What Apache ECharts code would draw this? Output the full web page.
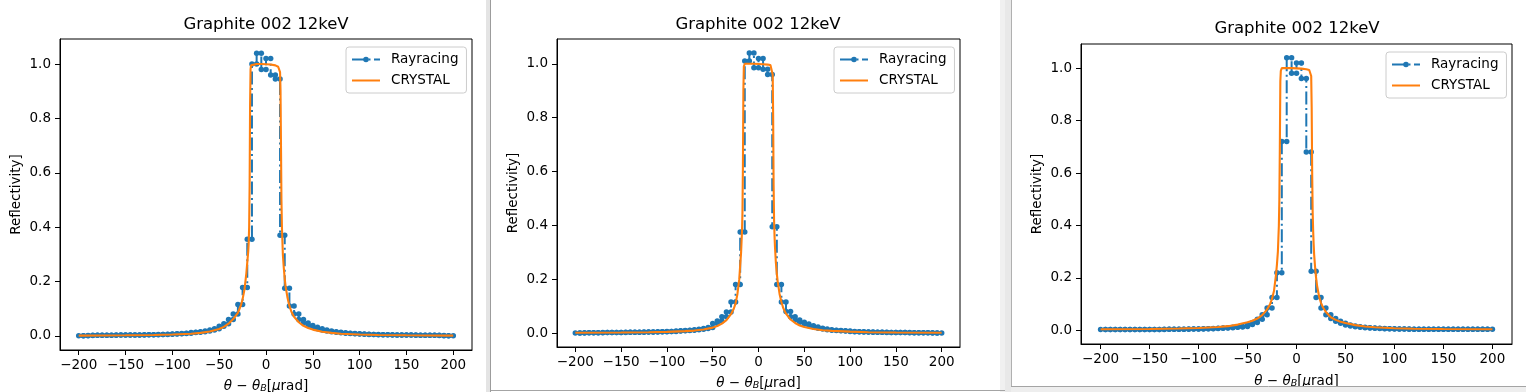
<!DOCTYPE html>
<html>
<head>
<meta charset="utf-8">
<script src="https://cdn.jsdelivr.net/npm/echarts@6/dist/echarts.min.js"></script>
<style>
html,body{margin:0;padding:0;background:#fff;}
#chart{width:1526px;height:392px;}
</style>
</head>
<body>
<div id="chart"></div>
<script>
// ---------------- data ----------------
const titleText = 'Graphite 002 12keV';
const seriesNames = ['Rayracing', 'CRYSTAL'];
const xTicks = [-200, -150, -100, -50, 0, 50, 100, 150, 200];
const yTicks = [0, 0.2, 0.4, 0.6, 0.8, 1.0];

// histogram bin edges of the ray-tracing result (µrad)
const binEdges = [-200,-195,-190,-185,-180,-175,-170,-165,-160,-155,-150,-145,-140,-135,-130,-125,-120,-115,-110,-105,
  -100,-95,-90,-85,-80,-75,-70,-65,-60,-55,-50,-45,-40,-35,-30,-25,-20,-15,-10,-5,
  0,5,10,15,20,25,30,35,40,45,50,55,60,65,70,75,80,85,90,95,
  100,105,110,115,120,125,130,135,140,145,150,155,160,165,170,175,180,185,190,195,200];

// ray-tracing reflectivity per bin, panel 1
const ray1 = [0.000,0.000,0.001,0.002,0.002,0.002,0.002,0.002,0.003,0.003,
  0.003,0.003,0.003,0.003,0.004,0.004,0.004,0.005,0.005,0.006,
  0.007,0.008,0.009,0.010,0.012,0.013,0.015,0.018,0.022,0.026,
  0.035,0.045,0.060,0.080,0.115,0.178,0.355,
  1.000,1.040,0.980,1.020,0.960,0.945,
  0.370,0.175,0.110,0.080,0.060,0.047,0.038,
  0.032,0.026,0.022,0.018,0.015,0.013,0.011,0.010,0.009,0.008,
  0.007,0.006,0.005,0.005,0.004,0.004,0.004,0.003,0.003,0.003,
  0.003,0.003,0.002,0.002,0.002,0.002,0.002,0.001,0.000,0.000];

// panel 2
const ray2 = [0.000,0.000,0.001,0.001,0.001,0.001,0.002,0.002,0.002,0.002,
  0.002,0.003,0.003,0.003,0.003,0.004,0.004,0.004,0.005,0.005,
  0.006,0.006,0.007,0.008,0.009,0.010,0.012,0.014,0.017,0.020,
  0.035,0.045,0.060,0.078,0.115,0.180,0.375,
  1.010,1.040,0.985,1.020,0.980,0.960,
  0.395,0.180,0.115,0.080,0.060,0.048,0.040,
  0.033,0.027,0.022,0.018,0.015,0.012,0.010,0.009,0.008,0.007,
  0.006,0.005,0.005,0.004,0.004,0.003,0.003,0.003,0.002,0.002,
  0.002,0.002,0.002,0.001,0.001,0.001,0.001,0.001,0.000,0.000];

// panel 3
const ray3 = [0.003,0.003,0.003,0.003,0.003,0.003,0.003,0.003,0.003,0.003,
  0.003,0.003,0.003,0.004,0.004,0.004,0.004,0.004,0.005,0.005,
  0.005,0.006,0.006,0.007,0.008,0.009,0.010,0.012,0.013,0.015,
  0.022,0.030,0.042,0.060,0.085,0.125,0.220,
  0.720,1.040,0.980,1.020,0.960,0.680,
  0.225,0.125,0.085,0.060,0.045,0.035,0.027,
  0.020,0.017,0.014,0.012,0.010,0.009,0.008,0.007,0.006,0.006,
  0.005,0.005,0.005,0.004,0.004,0.004,0.004,0.004,0.004,0.004,
  0.004,0.004,0.004,0.004,0.004,0.004,0.004,0.004,0.004,0.004];

// CRYSTAL calculation, sample angles (µrad)
const crystalX = [-200,-150,-120,-100,-80,-70,-60,-50,-45,-40,-35,-30,-27,-25,-23,-21,-20,-19,-18.5,-18,-17.5,-17,-16.5,-16,-15,
  -10,-5,0,5,10,13,14,15,15.5,16,16.5,17,17.5,18,19,20,21,23,25,27,30,35,40,45,50,60,70,80,100,120,150,200];

const crystal1 = [0.001,0.002,0.003,0.005,0.008,0.011,0.016,0.025,0.033,0.045,0.062,0.085,0.110,0.135,0.170,0.230,0.270,0.310,0.340,0.400,0.550,0.850,0.980,0.995,1.000,
  1.000,1.000,0.999,0.998,0.995,0.990,0.985,0.970,0.900,0.700,0.500,0.400,0.350,0.300,0.250,0.210,0.180,0.140,0.110,0.090,0.070,0.050,0.037,0.029,0.023,0.015,0.011,0.008,0.005,0.003,0.002,0.001];

const crystal2 = [0.001,0.002,0.003,0.004,0.007,0.009,0.013,0.020,0.026,0.035,0.048,0.070,0.090,0.110,0.145,0.200,0.250,0.300,0.340,0.380,0.450,0.620,0.900,0.990,1.000,
  1.000,1.000,0.999,0.998,0.997,0.995,0.993,0.990,0.960,0.800,0.550,0.420,0.360,0.320,0.260,0.220,0.190,0.145,0.115,0.093,0.072,0.050,0.037,0.028,0.022,0.015,0.010,0.008,0.005,0.003,0.002,0.001];

const crystal3 = [0.004,0.005,0.007,0.009,0.013,0.016,0.022,0.031,0.037,0.045,0.058,0.080,0.100,0.120,0.150,0.210,0.250,0.300,0.350,0.400,0.500,0.700,0.950,0.990,1.000,
  1.000,1.000,0.999,0.998,0.996,0.993,0.990,0.970,0.850,0.600,0.450,0.380,0.330,0.290,0.240,0.200,0.170,0.130,0.105,0.088,0.070,0.050,0.040,0.033,0.028,0.020,0.015,0.012,0.008,0.006,0.005,0.004];

const rayPanels = [ray1, ray2, ray3];
const crystalPanels = [crystal1, crystal2, crystal3];

// ---------------- layout ----------------
const grids = [
  {left: 60, top: 39, width: 412, height: 311},
  {left: 557, top: 39, width: 403, height: 308},
  {left: 1081, top: 44, width: 431, height: 300}
];
const titlePos = [[266, 16], [758, 16], [1297, 20]];
const legendPos = [[346, 47], [834, 47], [1386, 52]];
const xNameGap = [28, 28, 29];

const FONT = 'DejaVu Sans';
const BLUE = '#1f77b4', ORANGE = '#ff7f0e';

function stepPairs(edges, vals) {
  const out = [];
  vals.forEach((v, i) => { out.push([edges[i], v]); out.push([edges[i + 1], v]); });
  return out;
}
function zip(xs, ys) { return xs.map((x, i) => [x, ys[i]]); }

const xAxes = [], yAxes = [], series = [], legends = [], graphics = [];
grids.forEach((g, k) => {
  xAxes.push({
    type: 'value', gridIndex: k, min: -220, max: 220,
    name: '{i|θ} − {i|θ}{sub|B}[{i|μ}rad]',
    nameLocation: 'middle', nameGap: xNameGap[k],
    nameTextStyle: {
      fontFamily: FONT, fontSize: 13.5, color: '#000', lineHeight: 16,
      rich: {
        i: {fontFamily: FONT, fontSize: 13.5, fontStyle: 'italic', color: '#000', lineHeight: 16},
        sub: {fontFamily: FONT, fontSize: 9.5, fontStyle: 'italic', color: '#000', lineHeight: 9, verticalAlign: 'bottom'}
      }
    },
    axisLine: {show: true, onZero: false, lineStyle: {color: '#000', width: 1}},
    axisTick: {show: true, length: 5, customValues: xTicks, lineStyle: {color: '#000', width: 1}},
    axisLabel: {
      customValues: xTicks, margin: 8, color: '#000', fontFamily: FONT, fontSize: 13.5,
      formatter: v => (v < 0 ? '\u2212' : '') + Math.abs(v)
    },
    splitLine: {show: false}
  });
  yAxes.push({
    type: 'value', gridIndex: k, min: -0.052, max: 1.092,
    name: 'Reflectivity]', nameLocation: 'middle', nameGap: 37, nameRotate: 90,
    nameTextStyle: {fontFamily: FONT, fontSize: 13.5, color: '#000'},
    axisLine: {show: true, onZero: false, lineStyle: {color: '#000', width: 1}},
    axisTick: {show: true, length: 5, customValues: yTicks, lineStyle: {color: '#000', width: 1}},
    axisLabel: {
      customValues: yTicks, margin: 9, color: '#000', fontFamily: FONT, fontSize: 13.5,
      formatter: v => v.toFixed(1)
    },
    splitLine: {show: false}
  });
  series.push({
    name: seriesNames[0], type: 'line', xAxisIndex: k, yAxisIndex: k,
    data: stepPairs(binEdges, rayPanels[k]),
    symbol: 'circle', symbolSize: 5.5, showSymbol: true,
    itemStyle: {color: BLUE},
    lineStyle: {color: BLUE, width: 2, type: [13, 3.5, 2, 3.5]},
    emphasis: {disabled: true}, z: 2
  });
  series.push({
    name: seriesNames[1], type: 'line', xAxisIndex: k, yAxisIndex: k,
    data: zip(crystalX, crystalPanels[k]),
    symbol: 'none', showSymbol: false,
    itemStyle: {color: ORANGE},
    lineStyle: {color: ORANGE, width: 2.1},
    emphasis: {disabled: true}, z: 3
  });
  legends.push({
    orient: 'vertical', left: legendPos[k][0], top: legendPos[k][1],
    data: [
      {name: seriesNames[0]},
      {name: seriesNames[1], itemStyle: {opacity: 0}}
    ],
    itemWidth: 28, itemHeight: 7, itemGap: 6,
    padding: [5, 8, 5, 5],
    backgroundColor: 'rgba(255,255,255,0.8)',
    borderColor: '#cccccc', borderWidth: 1, borderRadius: 3,
    textStyle: {fontFamily: FONT, fontSize: 13.5, color: '#000', padding: [0, 0, 0, 6], lineHeight: 15},
    selectedMode: false
  });
  graphics.push({
    type: 'text', x: titlePos[k][0], y: titlePos[k][1], z: 10,
    style: {text: titleText, font: '16.5px "DejaVu Sans"', fill: '#000', textAlign: 'center', textVerticalAlign: 'top'}
  });
});

// window frame decoration of the screenshot
graphics.push(
  {type: 'rect', shape: {x: 486, y: 0, width: 4, height: 392}, style: {fill: '#e4e4e4'}, z: 50},
  {type: 'line', shape: {x1: 490.5, y1: 0, x2: 490.5, y2: 392}, style: {stroke: '#9c9c9c', lineWidth: 1}, z: 50},
  {type: 'rect', shape: {x: 1000, y: 0, width: 11, height: 392}, style: {fill: '#f0f0f0'}, z: 50},
  {type: 'line', shape: {x1: 491, y1: 390.5, x2: 1011, y2: 390.5}, style: {stroke: '#a4a4a4', lineWidth: 1}, z: 50},
  {type: 'rect', shape: {x: 1005, y: 0, width: 6, height: 392}, style: {fill: '#e8e8e8'}, z: 51},
  {type: 'line', shape: {x1: 1011.5, y1: 0, x2: 1011.5, y2: 387}, style: {stroke: '#b0b0b0', lineWidth: 1}, z: 51},
  {type: 'rect', shape: {x: 1011, y: 387, width: 515, height: 5}, style: {fill: '#eeeeee'}, z: 51},
  {type: 'line', shape: {x1: 1011, y1: 386.5, x2: 1526, y2: 386.5}, style: {stroke: '#a4a4a4', lineWidth: 1}, z: 51}
);

const chart = echarts.init(document.getElementById('chart'), null, {renderer: 'canvas'});
chart.setOption({
  animation: false,
  backgroundColor: '#ffffff',
  textStyle: {fontFamily: FONT},
  grid: grids.map(g => Object.assign({show: true, borderColor: '#000', borderWidth: 1, backgroundColor: 'transparent',
    containLabel: false, outerBoundsMode: 'none'}, g)),
  xAxis: xAxes,
  yAxis: yAxes,
  legend: legends,
  tooltip: {show: false},
  series: series,
  graphic: graphics
});
</script>
</body>
</html>
